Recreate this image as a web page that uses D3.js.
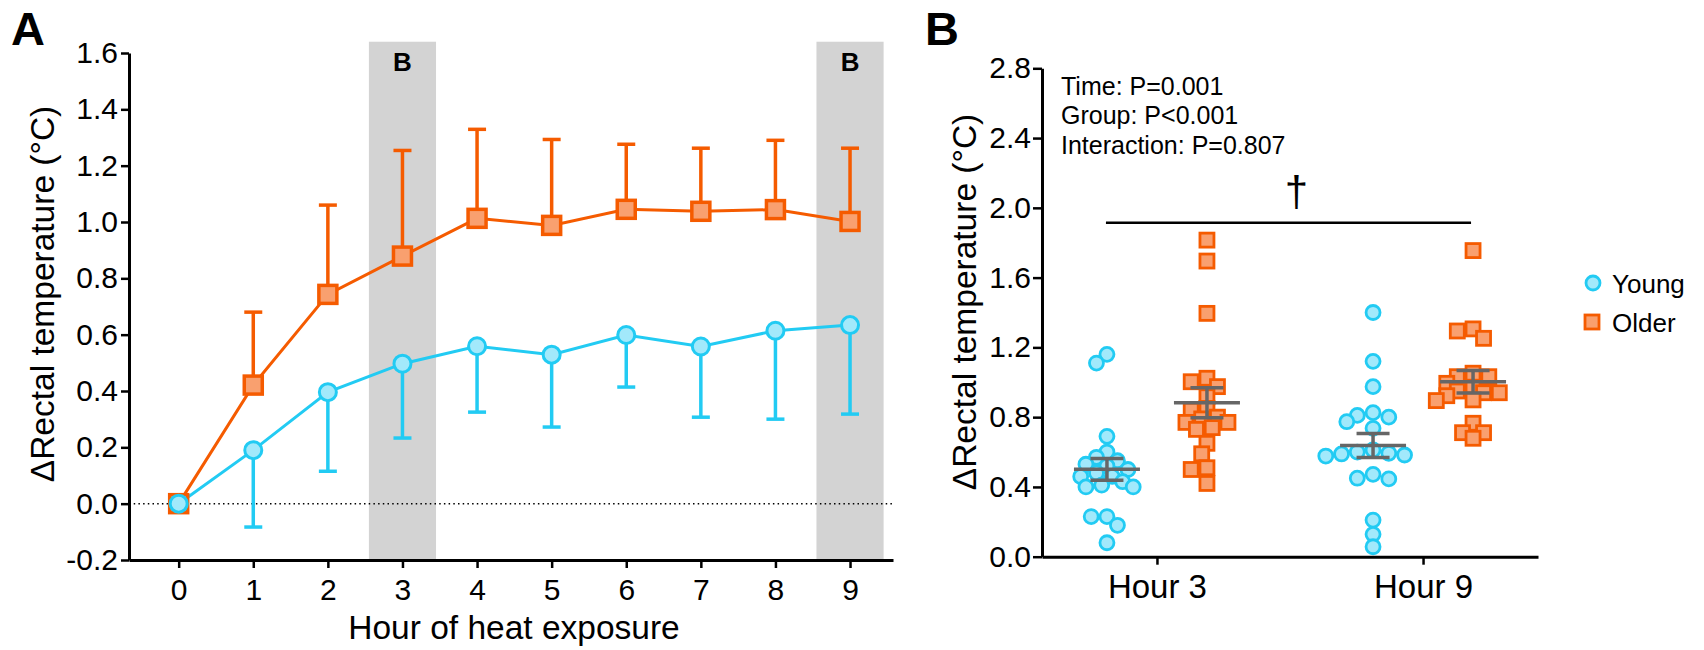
<!DOCTYPE html>
<html>
<head>
<meta charset="utf-8">
<title>Rectal temperature, young vs older</title>
<script src="https://d3js.org/d3.v7.min.js"></script>
<style>
  body { margin: 0; background: #fff; }
  svg text { font-family: "Liberation Sans", Arial, Helvetica, sans-serif; fill: #000; }
  .axis path, .axis line { stroke: #000; }
</style>
</head>
<body>
<svg id="chart" width="1704" height="650"></svg>
<script>
// ---- panel A data: change in rectal temperature per hour ----
const hours = [0, 1, 2, 3, 4, 5, 6, 7, 8, 9];
const youngMean = [0, 0.19, 0.396, 0.497, 0.559, 0.529, 0.599, 0.558, 0.614, 0.634];
const youngSD   = [0, 0.273, 0.281, 0.264, 0.234, 0.257, 0.185, 0.251, 0.314, 0.316];
const olderMean = [0, 0.421, 0.743, 0.879, 1.013, 0.988, 1.045, 1.038, 1.044, 1.002];
const olderSD   = [0, 0.259, 0.317, 0.375, 0.316, 0.305, 0.231, 0.224, 0.246, 0.26];
const bandHours = [3, 9];
const yTicksA = [-0.2, 0, 0.2, 0.4, 0.6, 0.8, 1.0, 1.2, 1.4, 1.6];

// ---- panel B data: individual values at hour 3 and hour 9 ----
const categories = ["Hour 3", "Hour 9"];
const youngH3 = [1.16, 1.11, 0.69, 0.60, 0.57, 0.55, 0.53, 0.52, 0.50, 0.48,
                 0.46, 0.46, 0.43, 0.41, 0.40, 0.40, 0.23, 0.23, 0.18, 0.08];
const olderH3 = [1.815, 1.695, 1.395, 1.023, 1.003, 0.975, 0.917, 0.85, 0.84, 0.80,
                 0.79, 0.77, 0.77, 0.74, 0.73, 0.65, 0.59, 0.51, 0.50, 0.42];
const youngH9 = [1.40, 1.12, 0.975, 0.826, 0.81, 0.80, 0.774, 0.736, 0.612, 0.60,
                 0.593, 0.589, 0.583, 0.577, 0.472, 0.45, 0.446, 0.21, 0.128, 0.057];
const olderH9 = [1.755, 1.306, 1.294, 1.252, 1.052, 1.032, 1.032, 0.994, 0.97, 0.95,
                 0.94, 0.94, 0.923, 0.899, 0.895, 0.765, 0.711, 0.711, 0.679];
const groupMean = [0.501, 0.883, 0.637, 1.003];
const groupSEM  = [0.062, 0.086, 0.069, 0.064];
const yTicksB = [0, 0.4, 0.8, 1.2, 1.6, 2.0, 2.4, 2.8];
const sigLevel = 1.915;
const statsText = ["Time: P=0.001", "Group: P<0.001", "Interaction: P=0.807"];
const legendLabels = ["Young", "Older"];

const cyan = { stroke: "#22cbf3", fill: "#a2e9fb" };
const orange = { stroke: "#f55b00", fill: "#f9a06f" };

const svg = d3.select("#chart");

// ================= panel A =================
const xA = d3.scaleLinear().domain([-0.666, 9.576]).range([129, 893]);
const yA = d3.scaleLinear().domain([-0.2, 1.6]).range([560, 53]);
const gA = svg.append("g");

// grey bands behind hours 3 and 9
gA.selectAll("rect.band")
  .data(bandHours).enter().append("rect")
  .attr("x", d => xA(d - 0.45))
  .attr("width", d => xA(d + 0.45) - xA(d - 0.45))
  .attr("y", yA(1.64))
  .attr("height", yA(-0.2) - yA(1.64))
  .attr("fill", "#d3d3d3");

gA.selectAll("text.bandlab")
  .data(bandHours).enter().append("text")
  .attr("x", d => xA(d))
  .attr("y", yA(1.535))
  .attr("text-anchor", "middle")
  .style("font-size", "26px")
  .style("font-weight", "bold")
  .text("B");

// dotted zero line
gA.append("line")
  .attr("x1", xA.range()[0]).attr("x2", xA.range()[1])
  .attr("y1", yA(0)).attr("y2", yA(0))
  .attr("stroke", "#000").attr("stroke-width", 1.5)
  .attr("stroke-dasharray", "1.5,3.2");

function errorBars(g, means, sds, dir, col) {
  const d = hours.map((h, i) => ({ h, m: means[i], e: means[i] + dir * sds[i], sd: sds[i] }))
                 .filter(p => p.sd > 0);
  g.selectAll(null).data(d).enter().append("line")
    .attr("x1", p => xA(p.h)).attr("x2", p => xA(p.h))
    .attr("y1", p => yA(p.m)).attr("y2", p => yA(p.e))
    .attr("stroke", col).attr("stroke-width", 3.5);
  g.selectAll(null).data(d).enter().append("line")
    .attr("x1", p => xA(p.h) - 9).attr("x2", p => xA(p.h) + 9)
    .attr("y1", p => yA(p.e)).attr("y2", p => yA(p.e))
    .attr("stroke", col).attr("stroke-width", 3.5);
}

const lineA = d3.line().x((d, i) => xA(hours[i])).y(d => yA(d));

errorBars(gA, olderMean, olderSD, 1, orange.stroke);
gA.append("path").datum(olderMean).attr("d", lineA)
  .attr("fill", "none").attr("stroke", orange.stroke).attr("stroke-width", 3);
errorBars(gA, youngMean, youngSD, -1, cyan.stroke);
gA.append("path").datum(youngMean).attr("d", lineA)
  .attr("fill", "none").attr("stroke", cyan.stroke).attr("stroke-width", 3);

gA.selectAll("rect.olderA").data(olderMean).enter().append("rect")
  .attr("x", (d, i) => xA(hours[i]) - 9).attr("y", d => yA(d) - 9)
  .attr("width", 18).attr("height", 18)
  .attr("fill", orange.fill).attr("stroke", orange.stroke).attr("stroke-width", 3.5);
gA.selectAll("circle.youngA").data(youngMean).enter().append("circle")
  .attr("cx", (d, i) => xA(hours[i])).attr("cy", d => yA(d)).attr("r", 8.5)
  .attr("fill", cyan.fill).attr("stroke", cyan.stroke).attr("stroke-width", 3);

// axes
const axA_y = gA.append("g").attr("class", "axis")
  .attr("transform", "translate(129,0)")
  .call(d3.axisLeft(yA).tickValues(yTicksA).tickFormat(d => d.toFixed(1))
        .tickSize(8).tickPadding(3).tickSizeOuter(0));
const axA_x = gA.append("g").attr("class", "axis")
  .attr("transform", "translate(0,560)")
  .call(d3.axisBottom(xA).tickValues(hours).tickFormat(d => d)
        .tickSize(8).tickPadding(11).tickSizeOuter(0));
[axA_y, axA_x].forEach(a => {
  a.select(".domain").attr("stroke-width", 3);
  a.selectAll(".tick line").attr("stroke-width", 2.5);
  a.selectAll(".tick text").style("font-size", "30px");
});

gA.append("text")
  .attr("transform", "translate(54,294) rotate(-90)")
  .attr("text-anchor", "middle")
  .style("font-size", "33.5px")
  .text("ΔRectal temperature (°C)");
gA.append("text")
  .attr("x", 514).attr("y", 639)
  .attr("text-anchor", "middle")
  .style("font-size", "33.5px")
  .text("Hour of heat exposure");

svg.append("text").attr("x", 11).attr("y", 45)
  .style("font-size", "47px").style("font-weight", "bold").text("A");

// ================= panel B =================
const xB = d3.scalePoint().domain(categories).range([1042, 1538]).padding(0.432);
const yB = d3.scaleLinear().domain([0, 2.8]).range([556.7, 68.3]);
const gB = svg.append("g");

const groups = [
  { cat: "Hour 3", off: -50, vals: youngH3, kind: "young" },
  { cat: "Hour 3", off: 50, vals: olderH3, kind: "older" },
  { cat: "Hour 9", off: -50, vals: youngH9, kind: "young" },
  { cat: "Hour 9", off: 50, vals: olderH9, kind: "older" }
];

// simple dodge so that points with similar values spread sideways
function dodge(vals, minDist, step) {
  const pts = vals.map(v => ({ v, y: yB(v), dx: 0 })).sort((a, b) => a.y - b.y);
  const placed = [];
  pts.forEach(p => {
    for (let k = 0; k < 60; k++) {
      const off = (k % 2 === 1 ? -1 : 1) * Math.ceil(k / 2) * step;
      if (placed.every(q => Math.hypot(q.dx - off, q.y - p.y) >= minDist)) {
        p.dx = off; placed.push(p); break;
      }
    }
  });
  return placed;
}

groups.forEach(g => {
  const cx = xB(g.cat) + g.off;
  const pts = dodge(g.vals, 11.5, 5.25);
  if (g.kind === "young") {
    gB.selectAll(null).data(pts).enter().append("circle")
      .attr("cx", p => cx + p.dx).attr("cy", p => p.y).attr("r", 7)
      .attr("fill", cyan.fill).attr("stroke", cyan.stroke).attr("stroke-width", 2.8);
  } else {
    gB.selectAll(null).data(pts).enter().append("rect")
      .attr("x", p => cx + p.dx - 7).attr("y", p => p.y - 7)
      .attr("width", 14).attr("height", 14)
      .attr("fill", orange.fill).attr("stroke", orange.stroke).attr("stroke-width", 2.8);
  }
});

// mean and SEM bars
groups.forEach((g, i) => {
  const cx = xB(g.cat) + g.off;
  const m = groupMean[i], s = groupSEM[i];
  const bar = gB.append("g").attr("stroke", "#666").attr("stroke-width", 3.5);
  bar.append("line").attr("x1", cx - 33).attr("x2", cx + 33).attr("y1", yB(m)).attr("y2", yB(m));
  bar.append("line").attr("x1", cx).attr("x2", cx).attr("y1", yB(m - s)).attr("y2", yB(m + s));
  bar.append("line").attr("x1", cx - 16.5).attr("x2", cx + 16.5).attr("y1", yB(m + s)).attr("y2", yB(m + s));
  bar.append("line").attr("x1", cx - 16.5).attr("x2", cx + 16.5).attr("y1", yB(m - s)).attr("y2", yB(m - s));
});

// significance line across all groups
const sigX1 = xB("Hour 3") + groups[0].off - 1;
const sigX2 = xB("Hour 9") + groups[3].off - 2;
gB.append("line")
  .attr("x1", sigX1).attr("x2", sigX2)
  .attr("y1", yB(sigLevel)).attr("y2", yB(sigLevel))
  .attr("stroke", "#000").attr("stroke-width", 2.5);
gB.append("text")
  .attr("x", (sigX1 + sigX2) / 2 + 8).attr("y", yB(sigLevel) - 17)
  .attr("text-anchor", "middle")
  .style("font-size", "42px")
  .text("†");

gB.selectAll("text.stats").data(statsText).enter().append("text")
  .attr("x", 1061).attr("y", (d, i) => 95 + i * 29.3)
  .style("font-size", "25px")
  .text(d => d);

// axes
const axB_y = gB.append("g").attr("class", "axis")
  .attr("transform", "translate(1042,0)")
  .call(d3.axisLeft(yB).tickValues(yTicksB).tickFormat(d => d.toFixed(1))
        .tickSize(9).tickPadding(2).tickSizeOuter(0));
const axB_x = gB.append("g").attr("class", "axis")
  .attr("transform", "translate(0,556.7)")
  .call(d3.axisBottom(xB).tickSize(8).tickPadding(10).tickSizeOuter(0));
[axB_y, axB_x].forEach(a => {
  a.select(".domain").attr("stroke-width", 3);
  a.selectAll(".tick line").attr("stroke-width", 2.5);
});
axB_y.selectAll(".tick text").style("font-size", "30px");
axB_x.selectAll(".tick text").style("font-size", "33px");

gB.append("text")
  .attr("transform", "translate(976,302) rotate(-90)")
  .attr("text-anchor", "middle")
  .style("font-size", "33.5px")
  .text("ΔRectal temperature (°C)");

svg.append("text").attr("x", 925).attr("y", 45)
  .style("font-size", "47px").style("font-weight", "bold").text("B");

// legend
const leg = gB.append("g");
leg.append("circle").attr("cx", 1593).attr("cy", 283).attr("r", 7)
  .attr("fill", cyan.fill).attr("stroke", cyan.stroke).attr("stroke-width", 2.8);
leg.append("rect").attr("x", 1585).attr("y", 315).attr("width", 14).attr("height", 14)
  .attr("fill", orange.fill).attr("stroke", orange.stroke).attr("stroke-width", 2.8);
leg.selectAll("text").data(legendLabels).enter().append("text")
  .attr("x", 1612).attr("y", (d, i) => 292.5 + i * 39.3)
  .style("font-size", "26px")
  .text(d => d);
</script>
</body>
</html>
